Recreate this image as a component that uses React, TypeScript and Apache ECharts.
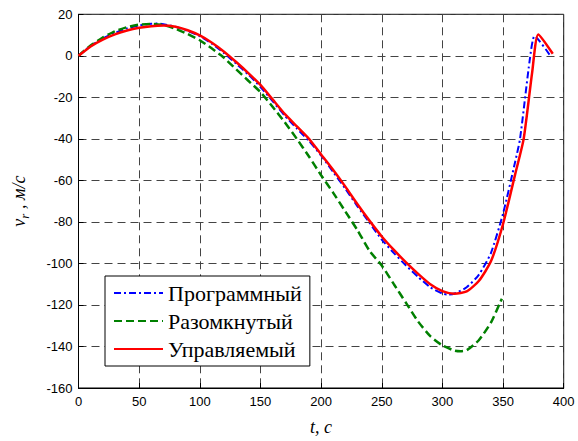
import React, { useEffect, useRef } from "react";
import * as echarts from "echarts";

const tProg = [0, 10, 20, 30, 40, 50, 60, 65, 70, 80, 90, 100, 110, 120, 130, 140, 150, 160, 170, 180, 190, 200, 210, 220, 230, 240, 250, 260, 270, 280, 290, 300, 305, 310, 320, 330, 340, 350, 360, 364, 372, 376, 389];
const vProg = [0, 4.8, 8.3, 11, 13.2, 14.6, 15.4, 15.6, 15.2, 14, 12, 9.4, 5.8, 1.3, -3.8, -9, -15, -21.8, -28.8, -35, -41, -48, -56, -64, -72.5, -80.5, -88.5, -95, -101, -106.5, -111.5, -114.5, -115, -114.5, -111.5, -105.5, -95, -76, -51, -40, -2, 9.5, 0];

const tOpen = [0, 10, 20, 30, 40, 50, 60, 70, 80, 90, 100, 110, 118, 120, 130, 140, 150, 160, 170, 180, 190, 200, 210, 220, 230, 240, 250, 260, 270, 280, 290, 300, 310, 315, 320, 330, 340, 349];
const vOpen = [0, 5, 8.8, 11.8, 13.8, 15, 15.4, 14.8, 13, 10.5, 7.5, 3.5, 0, -1, -6.5, -12, -17.5, -24.5, -32, -40, -48.5, -57.5, -66, -75, -84, -94, -101, -110, -119, -128, -135, -139.5, -142, -142.3, -141.8, -137, -128.5, -117];

const tCtrl = [0, 10, 20, 30, 40, 50, 60, 70, 80, 90, 100, 110, 120, 130, 140, 150, 160, 170, 180, 190, 200, 210, 220, 230, 240, 250, 260, 270, 280, 290, 300, 310, 320, 330, 340, 350, 360, 367, 374, 379, 391];
const vCtrl = [0, 4.5, 7.8, 10.3, 12.2, 13.5, 14.3, 14.6, 14, 12.3, 9.8, 6.3, 2, -3, -8.3, -14, -21, -28, -34, -40, -47.5, -55, -63, -71.5, -79.5, -87, -93.5, -99.5, -105, -110, -113.3, -114.6, -113.5, -108.5, -99, -81, -57, -40, -8, 10.3, 1];

const seriesNames = ["Программный", "Разомкнутый", "Управляемый"];
const xTitle = "t, c";

const pairs = (t: number[], v: number[]) => t.map((x, i) => [x, v[i]]);

const SERIF = "Liberation Serif";
const SANS = "Liberation Sans";

export default function App() {
  const ref = useRef<HTMLDivElement>(null);
  useEffect(() => {
    if (!ref.current) return;
    const chart = echarts.init(ref.current, undefined, { renderer: "svg" });
    const gridLine = { show: true, lineStyle: { color: "#444", type: [8, 5], width: 1 } };
    chart.setOption({
      animation: false,
      backgroundColor: "#fff",
      textStyle: { fontFamily: SERIF },
      grid: { left: 78.5, right: 14.3, top: 14.3, bottom: 44.3, show: true, borderColor: "#000", borderWidth: 1 },
      xAxis: {
        type: "value",
        min: 0,
        max: 400,
        interval: 50,
        name: xTitle,
        nameLocation: "middle",
        nameGap: 30,
        nameTextStyle: { fontFamily: SERIF, fontStyle: "italic", fontSize: 18, color: "#000" },
        axisLine: { show: true, onZero: false, lineStyle: { color: "#000", width: 1 } },
        axisTick: { show: true, inside: true, length: 5, lineStyle: { color: "#000" } },
        axisLabel: { fontFamily: SANS, fontSize: 13, color: "#000", margin: 7 },
        splitLine: gridLine,
      },
      yAxis: {
        type: "value",
        min: -160,
        max: 20,
        interval: 20,
        name: "{a|v}{s|r}{a| , м/с}",
        nameLocation: "middle",
        nameRotate: 90,
        nameGap: 48,
        nameTextStyle: {
          rich: {
            a: { fontFamily: SERIF, fontStyle: "italic", fontSize: 18, color: "#000" },
            s: { fontFamily: SERIF, fontStyle: "italic", fontSize: 13, color: "#000", padding: [10, 0, 0, 0] },
          },
        },
        axisLine: { show: true, lineStyle: { color: "#000", width: 1 } },
        axisTick: { show: true, inside: true, length: 5, lineStyle: { color: "#000" } },
        axisLabel: { fontFamily: SANS, fontSize: 13, color: "#000", margin: 6 },
        splitLine: gridLine,
      },
      legend: {
        left: 105,
        top: 276,
        orient: "vertical",
        padding: [6, 8, 6, 8],
        itemGap: 6,
        itemWidth: 49,
        itemHeight: 14,
        borderColor: "#000",
        borderWidth: 1,
        backgroundColor: "#fff",
        itemStyle: { opacity: 0 },
        textStyle: {
          fontFamily: SERIF,
          fontSize: 22,
          color: "#000",
          lineHeight: 22,
        },
        data: seriesNames,
      },
      series: [
        {
          name: seriesNames[0],
          type: "line",
          data: pairs(tProg, vProg),
          symbol: "none",
          smooth: 0.2,
          lineStyle: { color: "#0000ff", width: 2, type: [7, 3, 2, 3] },
          itemStyle: { color: "#0000ff" },
          z: 2,
        },
        {
          name: seriesNames[1],
          type: "line",
          data: pairs(tOpen, vOpen),
          symbol: "none",
          smooth: 0.2,
          lineStyle: { color: "#008000", width: 2.5, type: [8, 4] },
          itemStyle: { color: "#008000" },
          z: 3,
        },
        {
          name: seriesNames[2],
          type: "line",
          data: pairs(tCtrl, vCtrl),
          symbol: "none",
          smooth: 0.2,
          lineStyle: { color: "#ff0000", width: 2.5 },
          itemStyle: { color: "#ff0000" },
          z: 4,
        },
      ],
    });
    return () => chart.dispose();
  }, []);
  return <div ref={ref} style={{ position: "fixed", left: 0, top: 0, width: 578, height: 441 }} />;
}
